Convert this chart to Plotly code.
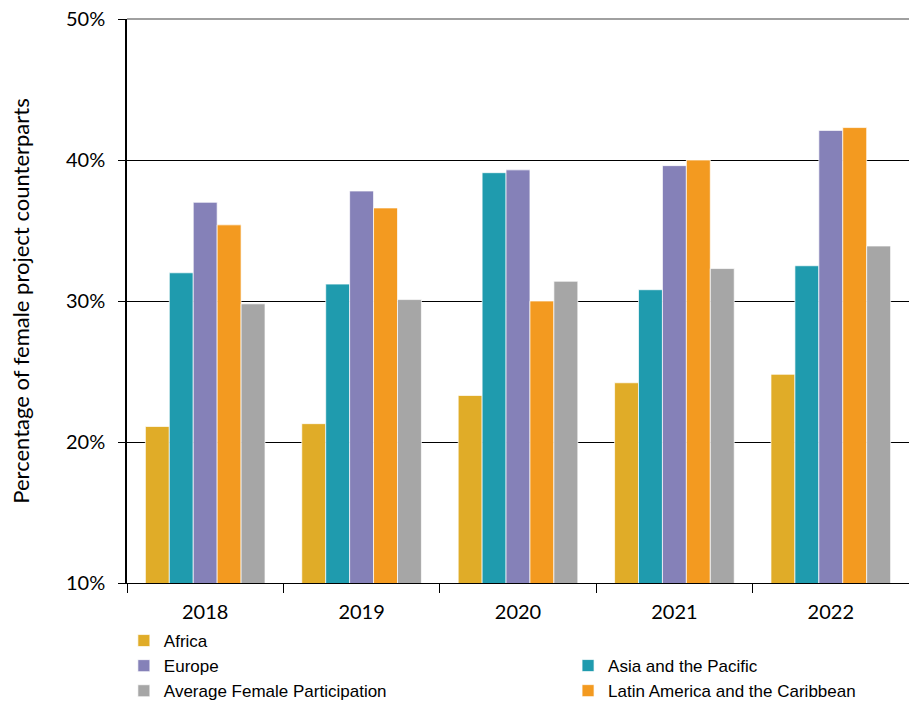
import plotly.graph_objects as go

years = ["2018", "2019", "2020", "2021", "2022"]
africa = [21.1, 21.3, 23.3, 24.2, 24.8]
asia_pacific = [32.0, 31.2, 39.1, 30.8, 32.5]
europe = [37.0, 37.8, 39.3, 39.6, 42.1]
latam = [35.4, 36.6, 30.0, 40.0, 42.3]
average = [29.8, 30.1, 31.4, 32.3, 33.9]

series = [
    ("Africa", africa, "#E0AC28", "legend"),
    ("Asia and the Pacific", asia_pacific, "#1F9BAE", "legend2"),
    ("Europe", europe, "#8581B8", "legend"),
    ("Latin America and the Caribbean", latam, "#F39A20", "legend2"),
    ("Average Female Participation", average, "#A6A6A6", "legend"),
]

fig = go.Figure()
for name, vals, color, leg in series:
    fig.add_trace(go.Bar(
        x=years, y=vals, name=name, legend=leg,
        marker=dict(color=color, line=dict(color="rgba(255,255,255,0.7)", width=1)),
    ))

legend_font = dict(family="Liberation Sans, Arial, sans-serif", size=17, color="#000")
fig.update_layout(
    width=909, height=709,
    margin=dict(l=127, r=0, t=19, b=126),
    paper_bgcolor="white", plot_bgcolor="white",
    barmode="group", bargap=0.235, bargroupgap=0,
    font=dict(family="Lato, Carlito, Calibri, sans-serif", size=20, color="#000"),
    xaxis=dict(
        showline=True, linecolor="#000", linewidth=1,
        ticks="outside", ticklen=9, tickcolor="#000",
        tickson="boundaries", showgrid=False,
        tickfont=dict(size=20), ticklabelstandoff=11,
    ),
    yaxis=dict(
        range=[10, 50], dtick=10, ticksuffix="%",
        showline=True, linecolor="#000", linewidth=1.5,
        ticks="outside", ticklen=7, tickcolor="#000",
        showgrid=True, gridcolor="#000", gridwidth=1,
        tickfont=dict(size=20), ticklabelstandoff=9,
        title=dict(text="Percentage of female project counterparts", font=dict(size=22), standoff=30),
    ),
    legend=dict(
        x=-0.004, y=0, xref="paper", yref="container", xanchor="left", yanchor="bottom",
        orientation="v", font=legend_font, itemwidth=30, tracegroupgap=0, bgcolor="rgba(0,0,0,0)",
    ),
    legend2=dict(
        x=0.564, y=0, xref="paper", yref="container", xanchor="left", yanchor="bottom",
        orientation="v", font=legend_font, itemwidth=30, tracegroupgap=0, bgcolor="rgba(0,0,0,0)",
    ),
    shapes=[dict(type="line", xref="paper", yref="paper", x0=0, x1=1, y0=1, y1=1,
                 line=dict(color="#A0A0A0", width=2))],
)

fig.write_html("out.html")
